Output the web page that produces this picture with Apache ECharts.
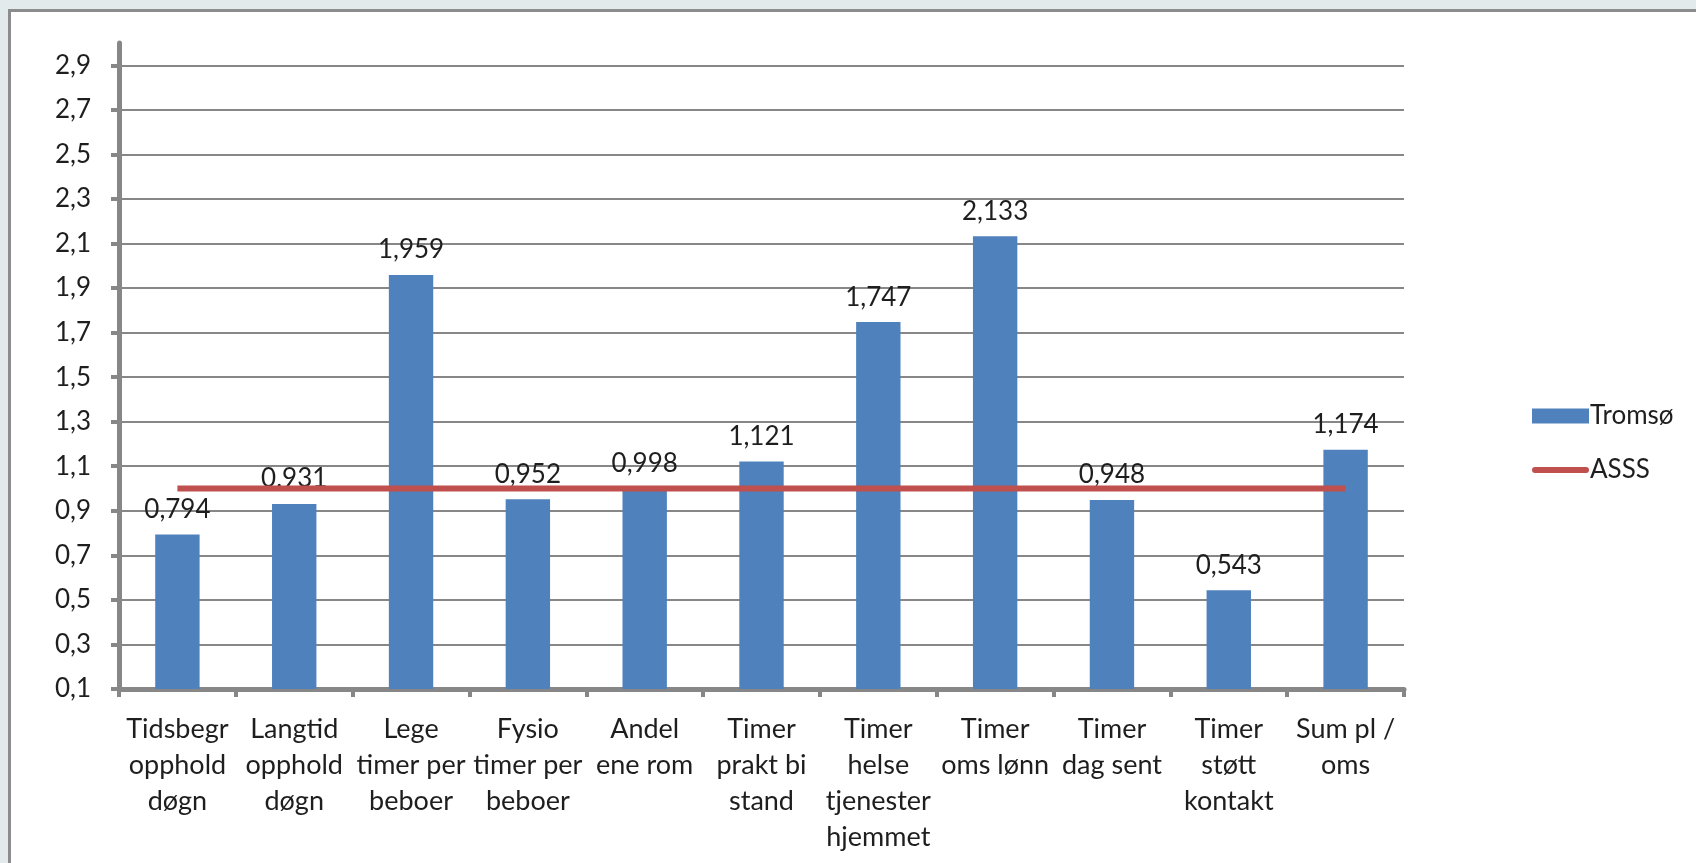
<!DOCTYPE html>
<html>
<head>
<meta charset="utf-8">
<script src="https://cdn.jsdelivr.net/npm/echarts@6/dist/echarts.min.js"></script>
<style>
  html, body { margin: 0; padding: 0; background: #e2eaec; overflow: hidden; }
  #frame { position: absolute; left: 8px; top: 9px; width: 1800px; height: 1000px;
           background: #fff; border: 3px solid #8c8c8c; }
  #chart { position: absolute; left: 0; top: 0; width: 1696px; height: 863px; }
</style>
</head>
<body>
<div id="frame"></div>
<div id="chart"></div>
<script>
// kategorier
var categories = [
    'Tidsbegr\nopphold\ndøgn',
    'Langtid\nopphold\ndøgn',
    'Lege\ntimer per\nbeboer',
    'Fysio\ntimer per\nbeboer',
    'Andel\nene rom',
    'Timer\nprakt bi\nstand',
    'Timer\nhelse\ntjenester\nhjemmet',
    'Timer\noms lønn',
    'Timer\ndag sent',
    'Timer\nstøtt\nkontakt',
    'Sum pl /\noms'
];

// Tromsø
var tromsoValues = [0.794, 0.931, 1.959, 0.952, 0.998, 1.121, 1.747, 2.133, 0.948, 0.543, 1.174];

// ASSS snitt
var asssValues = [1, 1, 1, 1, 1, 1, 1, 1, 1, 1, 1];

// y-akse
var yTicks = [0.1, 0.3, 0.5, 0.7, 0.9, 1.1, 1.3, 1.5, 1.7, 1.9, 2.1, 2.3, 2.5, 2.7, 2.9];

var font = 'Lato';
var textColor = '#1e1e1e';
var axisGrey = '#878787';

var myChart = echarts.init(document.getElementById('chart'));

function komma(v, d){
    return v.toFixed(d).replace('.', ',');
}

var option = {
    animation: false,
    backgroundColor: 'transparent',
    textStyle: { fontFamily: font },
    grid: {
        left: 119,
        right: 292,
        top: 43,
        bottom: 174
    },
    legend: {
        orient: 'vertical',
        left: 1527,
        top: 398,
        itemWidth: 57,
        itemHeight: 15,
        itemGap: 28,
        textStyle: { fontFamily: font, fontSize: 26, color: textColor, padding: [0, 0, 0, -4] },
        data: [
            { name: 'Tromsø', icon: 'rect' },
            { name: 'ASSS', icon: 'path://M3,0H54A3,3 0 0 1 54,6H3A3,3 0 0 1 3,0Z' }
        ]
    },
    xAxis: {
        type: 'category',
        data: categories,
        axisLine: { lineStyle: { color: axisGrey, width: 5 } },
        axisTick: { show: true, length: 8, lineStyle: { color: axisGrey, width: 4 } },
        axisLabel: {
            interval: 0,
            margin: 22,
            fontFamily: font,
            fontSize: 27,
            lineHeight: 36,
            color: textColor,
            align: 'center'
        }
    },
    yAxis: {
        type: 'value',
        min: 0.1,
        max: 3.0,
        interval: 0.2,
        axisLine: { show: true, lineStyle: { color: axisGrey, width: 5 } },
        axisTick: { show: true, length: 8, customValues: yTicks, lineStyle: { color: axisGrey, width: 4 } },
        axisLabel: {
            customValues: yTicks,
            margin: 28,
            fontFamily: font,
            fontSize: 26,
            color: textColor,
            formatter: function(v){ return komma(v, 1); }
        },
        splitLine: {
            show: true,
            showMinLine: false,
            lineStyle: { color: axisGrey, width: 2 }
        }
    },
    series: [
        {
            name: 'Tromsø',
            type: 'bar',
            data: tromsoValues,
            barWidth: '38%',
            itemStyle: { color: '#4f81bd' },
            label: {
                show: true,
                position: 'top',
                distance: 12,
                fontFamily: font,
                fontSize: 26,
                color: textColor,
                formatter: function(p){ return komma(p.value, 3); }
            }
        },
        {
            name: 'ASSS',
            type: 'line',
            data: asssValues,
            symbol: 'none',
            z: 5,
            lineStyle: { color: '#c0504d', width: 6 },
            itemStyle: { color: '#c0504d' }
        }
    ]
};

myChart.setOption(option);
</script>
</body>
</html>
